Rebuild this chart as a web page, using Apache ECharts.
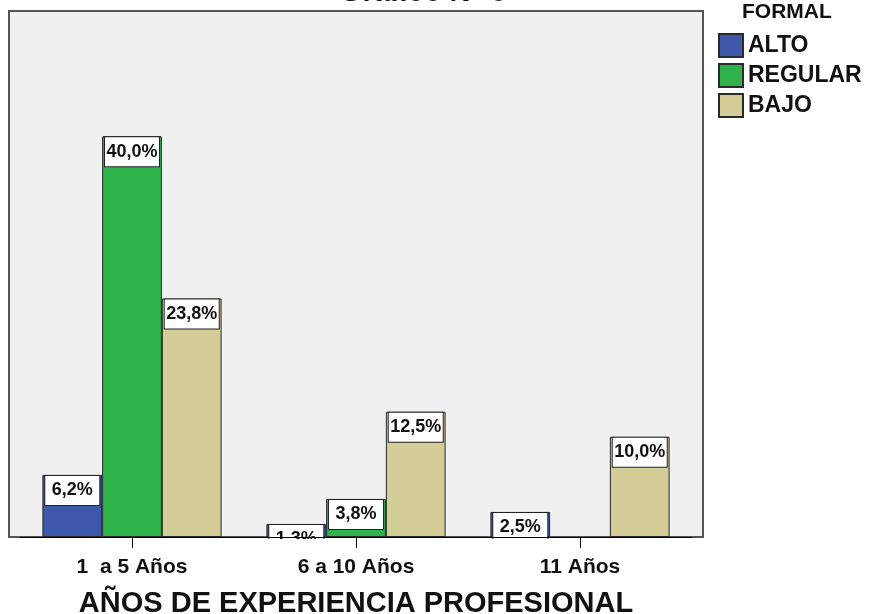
<!DOCTYPE html>
<html>
<head>
<meta charset="utf-8">
<script src="https://cdn.jsdelivr.net/npm/echarts@6/dist/echarts.min.js"></script>
<style>
html,body{margin:0;padding:0;background:#fff;}
#chart{width:871px;height:614px;}
</style>
</head>
<body>
<div id="chart"></div>
<script>
var categories = ['1  a 5 Años', '6 a 10 Años', '11 Años'];
var seriesNames = ['ALTO', 'REGULAR', 'BAJO'];
var alto = [6.2, 1.3, 2.5];
var regular = [40.0, 3.8, null];
var bajo = [23.8, 12.5, 10.0];
var colors = ['#3E58AC', '#2DB34A', '#D3CE97'];

var FONT = '"Liberation Sans", Arial, sans-serif';
var chart = echarts.init(document.getElementById('chart'));

function mkSeries(name, data, color) {
  return {
    name: name,
    type: 'bar',
    data: data,
    barGap: '0%',
    barCategoryGap: '20%',
    z: 2,
    itemStyle: { color: color, borderColor: '#2a2a2a', borderWidth: 1 },
    label: {
      show: true,
      position: 'top',
      distance: -30,
      formatter: function (p) {
        if (p.value == null) return '';
        return p.value.toFixed(1).replace('.', ',') + '%';
      },
      fontFamily: FONT,
      fontWeight: 'bold',
      fontSize: 18,
      color: '#111',
      backgroundColor: '#fff',
      borderColor: '#222',
      borderWidth: 1,
      width: 48,
      height: 21,
      lineHeight: 21,
      align: 'center',
      padding: [4, 3]
    }
  };
}

chart.setOption({
  animation: false,
  backgroundColor: '#fff',
  title: [{
    text: 'Gráfico N° 6',
    left: 418,
    textAlign: 'center',
    top: -27,
    textStyle: { fontFamily: FONT, fontWeight: 'bold', fontSize: 29, color: '#111' }
  }, {
    text: 'FORMAL',
    left: 742,
    top: 2,
    padding: 0,
    textStyle: { fontFamily: FONT, fontWeight: 'bold', fontSize: 21, color: '#111' }
  }],
  legend: {
    orient: 'vertical',
    left: 718,
    top: 33,
    padding: 0,
    itemWidth: 24,
    itemHeight: 23,
    itemGap: 5,
    icon: 'rect',
    data: seriesNames,
    textStyle: { fontFamily: FONT, fontWeight: 'bold', fontSize: 23, color: '#111', padding: [0, 0, 0, 0] }
  },
  grid: { left: 20, right: 179, top: 11, bottom: 77, outerBoundsMode: 'none', containLabel: false },
  xAxis: {
    type: 'category',
    data: categories,
    z: 10,
    axisLine: { show: true, lineStyle: { color: '#000', width: 1 } },
    axisTick: { show: true, alignWithLabel: true, length: 11, lineStyle: { color: '#000' } },
    axisLabel: { margin: 20, fontFamily: FONT, fontWeight: 'bold', fontSize: 21, color: '#111' },
    name: 'AÑOS DE EXPERIENCIA PROFESIONAL',
    nameLocation: 'middle',
    nameGap: 52,
    nameTextStyle: { fontFamily: FONT, fontWeight: 'bold', fontSize: 29, color: '#111' }
  },
  yAxis: {
    type: 'value',
    min: 0,
    max: 52.5,
    show: false,
    splitLine: { show: false }
  },
  graphic: [{
    type: 'rect',
    z: -1,
    shape: { x: 9, y: 11, width: 694, height: 526 },
    style: { fill: '#F0F0F0', stroke: '#555', lineWidth: 2 }
  }, {
    type: 'rect',
    z: 5,
    shape: { x: 0, y: 539, width: 710, height: 17 },
    style: { fill: '#fff' }
  }],
  series: [
    mkSeries(seriesNames[0], alto, colors[0]),
    mkSeries(seriesNames[1], regular, colors[1]),
    mkSeries(seriesNames[2], bajo, colors[2])
  ]
});
</script>
</body>
</html>
